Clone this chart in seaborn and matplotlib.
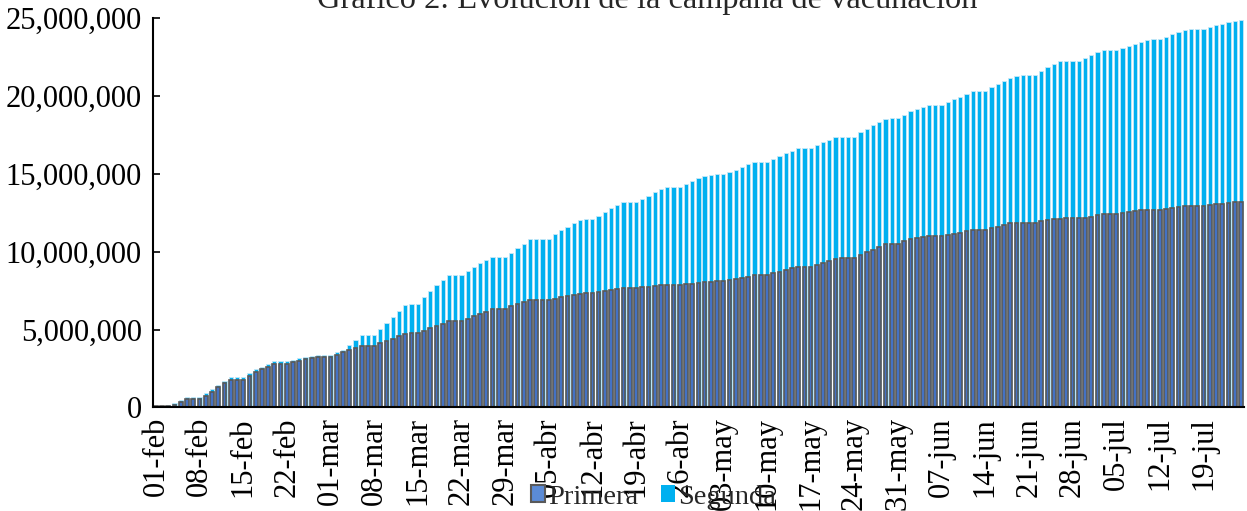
import pandas as pd
import seaborn as sns
import matplotlib.pyplot as plt
from matplotlib.patches import Patch
from matplotlib.ticker import FuncFormatter

# daily categories 01-feb .. 25-jul (2021)
meses = {2: "feb", 3: "mar", 4: "abr", 5: "may", 6: "jun", 7: "jul"}
fechas = pd.date_range("2021-02-01", "2021-07-25", freq="D")
etiquetas = [f"{d.day:02d}-{meses[d.month]}" for d in fechas]

# millions of doses
primera = [
    0.07, 0.08, 0.10, 0.17, 0.34, 0.53, 0.53, 0.53, 0.75, 1.00,
    1.29, 1.54, 1.77, 1.77, 1.77, 2.03, 2.29, 2.46, 2.61, 2.80,
    2.80, 2.80, 2.91, 3.00, 3.08, 3.19, 3.25, 3.25, 3.25, 3.38,
    3.57, 3.68, 3.83, 3.97, 3.97, 3.97, 4.13, 4.28, 4.41, 4.58,
    4.73, 4.75, 4.75, 4.92, 5.08, 5.22, 5.37, 5.53, 5.55, 5.55,
    5.69, 5.85, 6.02, 6.14, 6.32, 6.32, 6.32, 6.49, 6.62, 6.75,
    6.88, 6.88, 6.88, 6.88, 6.98, 7.07, 7.15, 7.24, 7.28, 7.33,
    7.33, 7.39, 7.45, 7.52, 7.58, 7.65, 7.67, 7.67, 7.71, 7.75,
    7.78, 7.84, 7.88, 7.88, 7.88, 7.92, 7.94, 8.01, 8.05, 8.07,
    8.10, 8.10, 8.16, 8.25, 8.31, 8.39, 8.50, 8.50, 8.50, 8.63,
    8.71, 8.82, 8.93, 9.02, 9.02, 9.02, 9.15, 9.29, 9.42, 9.53,
    9.58, 9.58, 9.59, 9.77, 9.96, 10.13, 10.30, 10.49, 10.51, 10.51,
    10.67, 10.82, 10.90, 10.96, 11.03, 11.03, 11.03, 11.09, 11.16, 11.20,
    11.33, 11.39, 11.41, 11.41, 11.54, 11.61, 11.74, 11.82, 11.84, 11.84,
    11.84, 11.86, 11.99, 12.06, 12.10, 12.12, 12.16, 12.16, 12.16, 12.19,
    12.25, 12.38, 12.40, 12.42, 12.44, 12.47, 12.55, 12.62, 12.68, 12.68,
    12.70, 12.70, 12.74, 12.83, 12.87, 12.96, 12.96, 12.96, 12.96, 13.00,
    13.05, 13.09, 13.15, 13.19, 13.21,
]
segunda = [
    0.03, 0.02, 0.05, 0.13, 0.13, 0.13, 0.13, 0.13, 0.15, 0.18,
    0.14, 0.15, 0.16, 0.16, 0.16, 0.15, 0.15, 0.15, 0.15, 0.16,
    0.16, 0.16, 0.15, 0.15, 0.15, 0.13, 0.13, 0.13, 0.13, 0.15,
    0.13, 0.32, 0.47, 0.68, 0.68, 0.68, 0.88, 1.12, 1.39, 1.63,
    1.87, 1.89, 1.89, 2.15, 2.39, 2.62, 2.81, 2.95, 2.95, 2.95,
    3.09, 3.19, 3.23, 3.31, 3.36, 3.36, 3.36, 3.45, 3.62, 3.77,
    3.94, 3.96, 3.96, 3.96, 4.14, 4.30, 4.44, 4.58, 4.76, 4.75,
    4.75, 4.92, 5.12, 5.29, 5.42, 5.52, 5.54, 5.54, 5.70, 5.85,
    6.04, 6.17, 6.28, 6.28, 6.28, 6.45, 6.60, 6.71, 6.81, 6.88,
    6.87, 6.87, 6.94, 7.02, 7.15, 7.25, 7.28, 7.28, 7.28, 7.35,
    7.46, 7.52, 7.56, 7.63, 7.63, 7.63, 7.69, 7.74, 7.76, 7.86,
    7.81, 7.81, 7.80, 7.90, 7.95, 8.01, 8.04, 8.04, 8.06, 8.06,
    8.14, 8.20, 8.29, 8.36, 8.42, 8.42, 8.42, 8.53, 8.63, 8.76,
    8.82, 8.92, 8.94, 8.94, 9.02, 9.17, 9.25, 9.34, 9.45, 9.50,
    9.50, 9.48, 9.64, 9.81, 9.96, 10.12, 10.12, 10.12, 10.12, 10.28,
    10.41, 10.43, 10.54, 10.54, 10.54, 10.60, 10.67, 10.75, 10.82, 10.95,
    10.97, 10.96, 11.08, 11.14, 11.23, 11.31, 11.33, 11.35, 11.33, 11.42,
    11.50, 11.56, 11.59, 11.64, 11.66,
]

titulo = "Gráfico 2: Evolución de la campaña de vacunación"
color_primera = "#4472C4"
borde_primera = "#595959"
color_segunda = "#00B0F0"

sns.set_theme(style="white")
plt.rcParams["font.family"] = ["Liberation Serif", "DejaVu Serif"]

df = pd.DataFrame({
    "fecha": etiquetas,
    "primera": [v * 1e6 for v in primera],
    "segunda": [v * 1e6 for v in segunda],
})
df["total"] = df["primera"] + df["segunda"]

fig, ax = plt.subplots(figsize=(12.47, 5.11), dpi=100)
fig.subplots_adjust(left=0.1225, right=0.9976, bottom=0.2029, top=0.9642)

# stacked bars: total (segunda on top) first, primera over it
sns.barplot(data=df, x="fecha", y="total", order=etiquetas, color=color_segunda,
            saturation=1, width=0.68, edgecolor="#C6E8F7", linewidth=0.6, ax=ax)
sns.barplot(data=df, x="fecha", y="primera", order=etiquetas, color=color_primera,
            saturation=1, width=0.6, edgecolor=borde_primera, linewidth=1.2, ax=ax)

ax.set_xlim(-0.5, len(etiquetas) - 0.5)
ax.set_ylim(0, 25e6)
ax.set_yticks(range(0, 25_000_001, 5_000_000))
ax.yaxis.set_major_formatter(FuncFormatter(lambda v, p: f"{v:,.0f}"))

pos = list(range(0, len(etiquetas), 7))
ax.set_xticks(pos)
ax.set_xticklabels([etiquetas[i] for i in pos], rotation=90)
ax.set_xticks([i - 0.5 for i in range(0, len(etiquetas) + 1, 7)], minor=True)
ax.tick_params(axis="x", which="major", length=0, pad=7, labelsize=22, colors="black")
ax.tick_params(axis="x", which="minor", direction="in", length=5, width=1.2, color="black")
ax.tick_params(axis="y", direction="in", length=5, width=1.2, pad=8, labelsize=22,
               colors="black", left=True)
ax.set_xlabel("")
ax.set_ylabel("")

for s in ["top", "right"]:
    ax.spines[s].set_visible(False)
for s in ["left", "bottom"]:
    ax.spines[s].set_color("black")
    ax.spines[s].set_linewidth(1.5)

handles = [
    Patch(facecolor="#5B8BD6", edgecolor=borde_primera, linewidth=1.5, label="Primera"),
    Patch(facecolor=color_segunda, edgecolor="none", label="Segunda"),
]
fig.legend(handles=handles, loc="center", bbox_to_anchor=(0.5237, 0.027), ncol=2,
           frameon=False, fontsize=20.5, handlelength=0.5, handleheight=0.5,
           handletextpad=0.1, columnspacing=0.8, borderpad=0, borderaxespad=0)

fig.text(0.519, 0.984, titulo, ha="center", va="baseline", fontsize=23.3)

fig.savefig("out.png", dpi=100)
plt.close()
